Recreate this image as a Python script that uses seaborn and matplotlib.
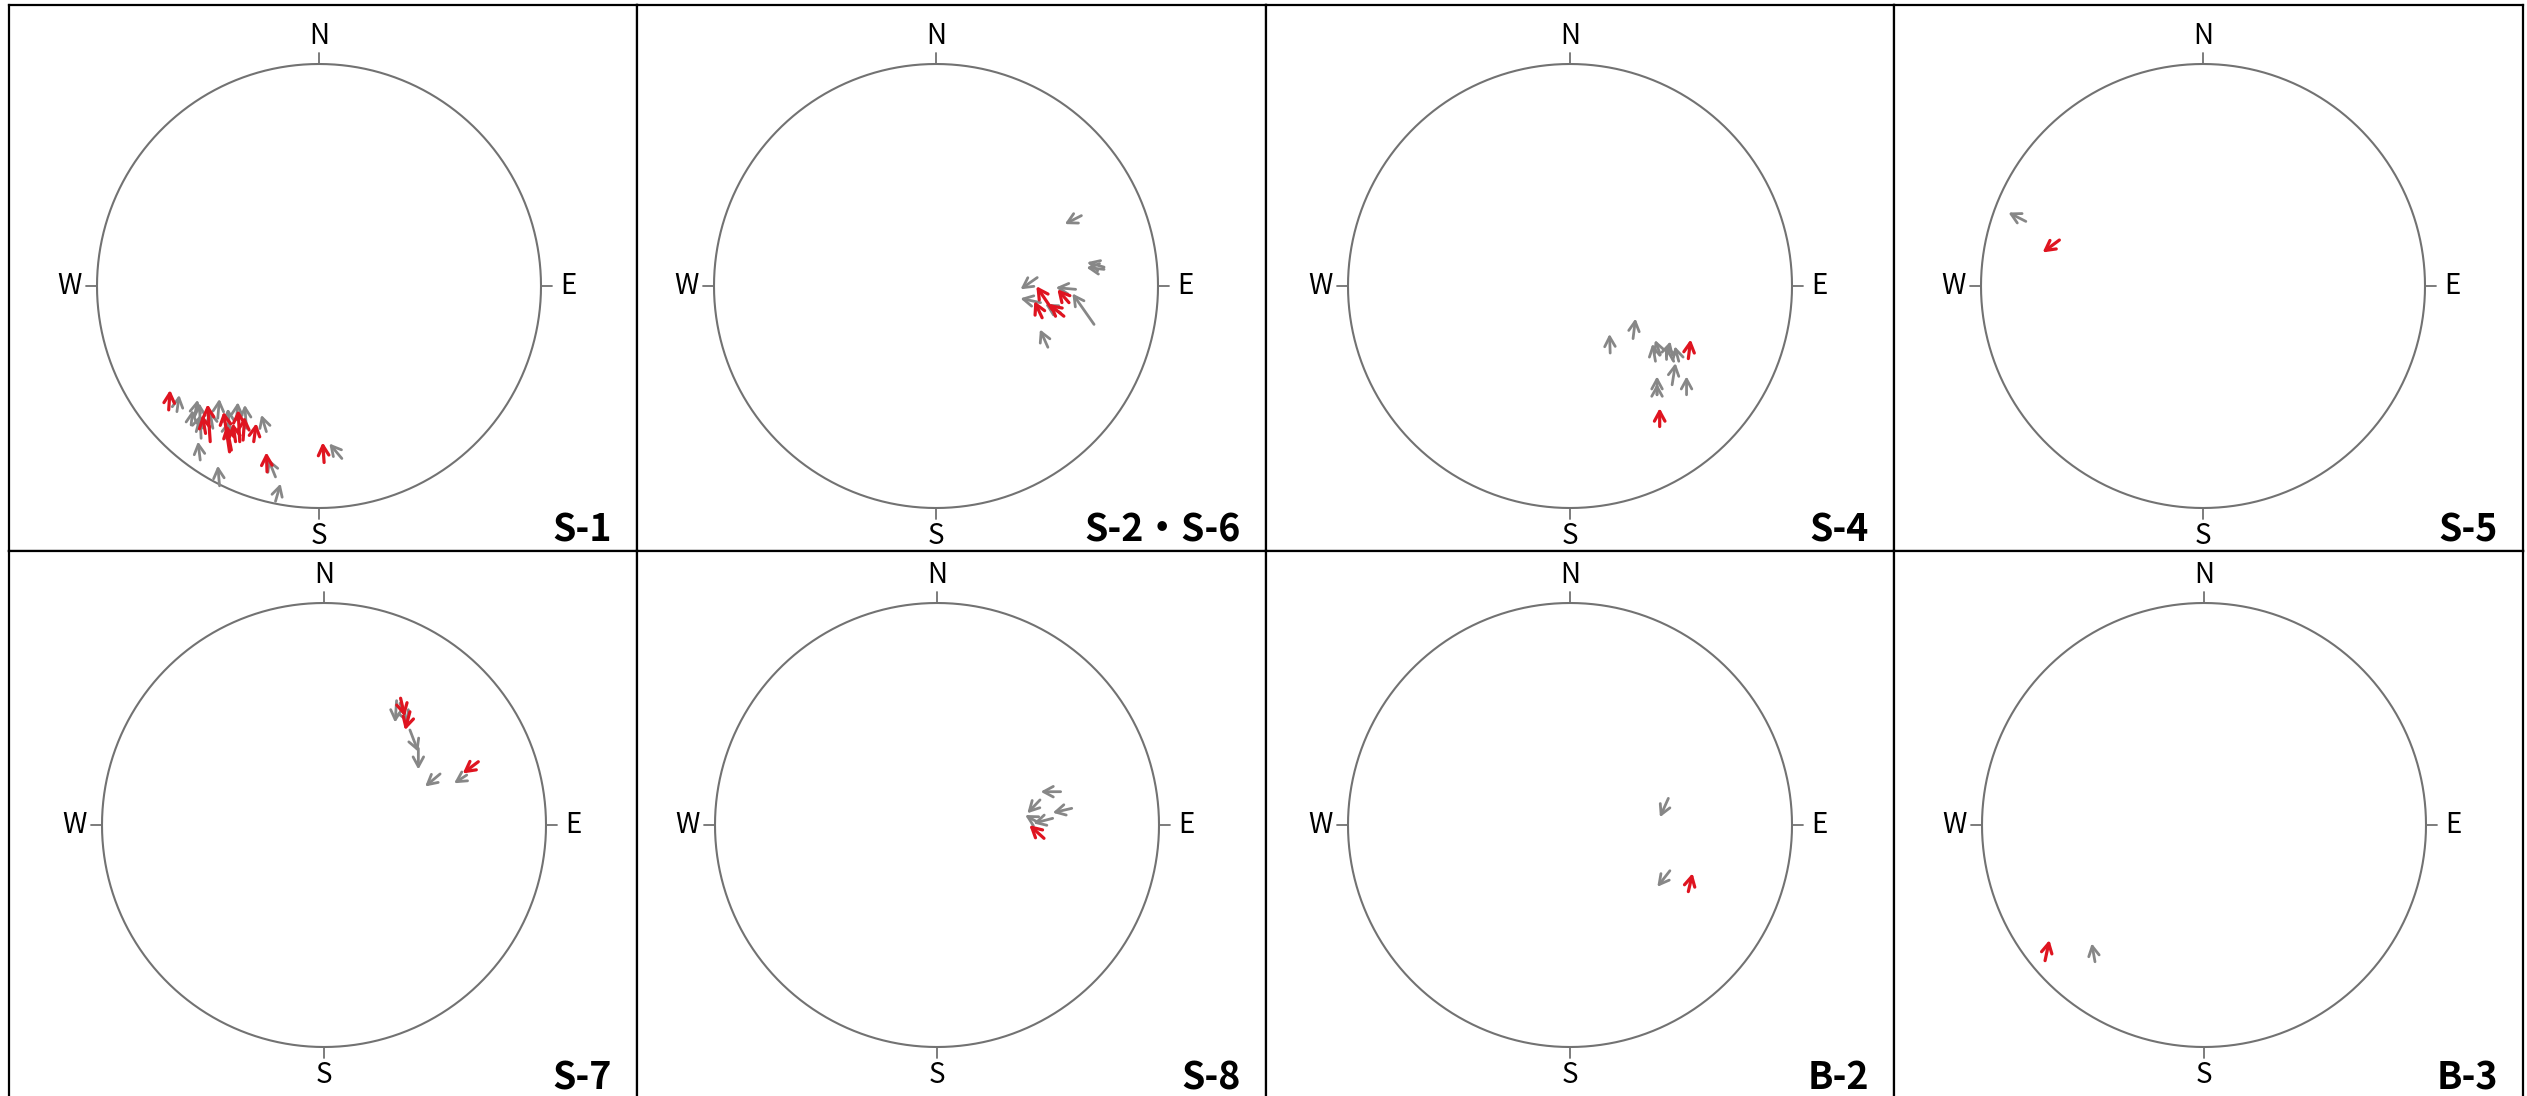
import numpy as np
import matplotlib
matplotlib.use("Agg")
import matplotlib.pyplot as plt
import seaborn as sns

# ---------------------------------------------------------------------------
# Arrow data for each station: tail position on the net (east, north; net
# radius = 1), arrow azimuth (degrees clockwise from north) and arrow length.
# ---------------------------------------------------------------------------
PANEL_NAMES = ["S-1", "S-2・S-6", "S-4", "S-5", "S-7", "S-8", "B-2", "B-3"]

# S-1
S1_GRAY_X = [-0.640, -0.561, -0.531, -0.456, -0.478, -0.327, -0.237, -0.535, -0.448,
             -0.196, 0.103, -0.196, -0.418, -0.576, -0.403, -0.372, -0.553]
S1_GRAY_Y = [-0.566, -0.588, -0.686, -0.596, -0.641, -0.641, -0.656, -0.784, -0.900,
             -0.970, -0.777, -0.860, -0.686, -0.626, -0.641, -0.603, -0.656]
S1_GRAY_AZ = [8, 11, 357, 5, 350, 356, 343, 353, 355, 16, 320, 338, 10, 6, 355, 5, 15]
S1_GRAY_LEN = [0.076, 0.077, 0.159, 0.088, 0.084, 0.106, 0.079, 0.084, 0.091,
               0.083, 0.088, 0.089, 0.084, 0.068, 0.090, 0.080, 0.080]
S1_RED_X = [-0.677, -0.490, -0.511, -0.403, -0.357, -0.376, -0.342, -0.294, -0.234, 0.023, -0.395]
S1_RED_Y = [-0.558, -0.701, -0.664, -0.747, -0.701, -0.701, -0.694, -0.701, -0.837, -0.795, -0.739]
S1_RED_AZ = [4, 356, 350, 351.5, 357, 352, 4, 8, 358, 356, 349]
S1_RED_LEN = [0.090, 0.169, 0.084, 0.183, 0.143, 0.084, 0.106, 0.084, 0.088, 0.091, 0.115]

# S-2・S-6
S2_GRAY_X = [0.655, 0.757, 0.757, 0.456, 0.471, 0.629, 0.712, 0.504, 0.561]
S2_GRAY_Y = [0.317, 0.075, 0.085, 0.038, -0.075, -0.015, -0.173, -0.276, -0.121]
S2_GRAY_AZ = [243, 276, 286, 235, 282, 275, 325, 336, 300]
S2_GRAY_LEN = [0.084, 0.080, 0.080, 0.092, 0.093, 0.090, 0.170, 0.088, 0.080]
S2_RED_X = [0.523, 0.599, 0.478, 0.576]
S2_RED_Y = [-0.106, -0.075, -0.143, -0.136]
S2_RED_AZ = [326, 319, 335, 309]
S2_RED_LEN = [0.127, 0.080, 0.083, 0.088]

# S-4
S4_GRAY_X = [0.181, 0.284, 0.385, 0.407, 0.434, 0.467, 0.490, 0.460, 0.392, 0.392, 0.525]
S4_GRAY_Y = [-0.302, -0.237, -0.339, -0.309, -0.317, -0.339, -0.339, -0.445, -0.490, -0.490, -0.490]
S4_GRAY_AZ = [358, 7, 350, 340, 15, 330, 345, 9, 0, 0, 0]
S4_GRAY_LEN = [0.086, 0.091, 0.080, 0.070, 0.070, 0.080, 0.070, 0.099, 0.083, 0.050, 0.083]
S4_RED_X = [0.533, 0.404]
S4_RED_Y = [-0.327, -0.633]
S4_RED_AZ = [7, 0]
S4_RED_LEN = [0.087, 0.083]

# S-5
S5_GRAY_X = [-0.798]
S5_GRAY_Y = [0.291]
S5_GRAY_AZ = [297]
S5_GRAY_LEN = [0.088]
S5_RED_X = [-0.647]
S5_RED_Y = [0.207]
S5_RED_AZ = [233.5]
S5_RED_LEN = [0.094]

# S-7
S7_GRAY_X = [0.327, 0.342, 0.387, 0.425, 0.523, 0.643]
S7_GRAY_Y = [0.560, 0.548, 0.428, 0.345, 0.230, 0.225]
S7_GRAY_AZ = [184, 157, 159, 180, 230, 237]
S7_GRAY_LEN = [0.099, 0.098, 0.105, 0.095, 0.088, 0.068]
S7_RED_X = [0.345, 0.387, 0.695]
S7_RED_Y = [0.571, 0.510, 0.285]
S7_RED_AZ = [167, 195, 233]
S7_RED_LEN = [0.085, 0.086, 0.088]

# S-8
S8_GRAY_X = [0.557, 0.607, 0.464, 0.521, 0.449]
S8_GRAY_Y = [0.150, 0.075, 0.113, 0.030, 0.015]
S8_GRAY_AZ = [270, 257, 223.5, 255.5, 300]
S8_GRAY_LEN = [0.090, 0.088, 0.083, 0.090, 0.060]
S8_RED_X = [0.482]
S8_RED_Y = [-0.060]
S8_RED_AZ = [312]
S8_RED_LEN = [0.089]

# B-2
B2_GRAY_X = [0.443, 0.450]
B2_GRAY_Y = [0.120, -0.206]
B2_GRAY_AZ = [204, 218]
B2_GRAY_LEN = [0.093, 0.092]
B2_RED_X = [0.533]
B2_RED_Y = [-0.300]
B2_RED_AZ = [13]
B2_RED_LEN = [0.085]

# B-3
B3_GRAY_X = [-0.491]
B3_GRAY_Y = [-0.616]
B3_GRAY_AZ = [350]
B3_GRAY_LEN = [0.084]
B3_RED_X = [-0.716]
B3_RED_Y = [-0.611]
B3_RED_AZ = [12]
B3_RED_LEN = [0.095]

COMPASS_LABELS = ["N", "E", "S", "W"]

PANEL_DATA = [
    (S1_GRAY_X, S1_GRAY_Y, S1_GRAY_AZ, S1_GRAY_LEN, S1_RED_X, S1_RED_Y, S1_RED_AZ, S1_RED_LEN),
    (S2_GRAY_X, S2_GRAY_Y, S2_GRAY_AZ, S2_GRAY_LEN, S2_RED_X, S2_RED_Y, S2_RED_AZ, S2_RED_LEN),
    (S4_GRAY_X, S4_GRAY_Y, S4_GRAY_AZ, S4_GRAY_LEN, S4_RED_X, S4_RED_Y, S4_RED_AZ, S4_RED_LEN),
    (S5_GRAY_X, S5_GRAY_Y, S5_GRAY_AZ, S5_GRAY_LEN, S5_RED_X, S5_RED_Y, S5_RED_AZ, S5_RED_LEN),
    (S7_GRAY_X, S7_GRAY_Y, S7_GRAY_AZ, S7_GRAY_LEN, S7_RED_X, S7_RED_Y, S7_RED_AZ, S7_RED_LEN),
    (S8_GRAY_X, S8_GRAY_Y, S8_GRAY_AZ, S8_GRAY_LEN, S8_RED_X, S8_RED_Y, S8_RED_AZ, S8_RED_LEN),
    (B2_GRAY_X, B2_GRAY_Y, B2_GRAY_AZ, B2_GRAY_LEN, B2_RED_X, B2_RED_Y, B2_RED_AZ, B2_RED_LEN),
    (B3_GRAY_X, B3_GRAY_Y, B3_GRAY_AZ, B3_GRAY_LEN, B3_RED_X, B3_RED_Y, B3_RED_AZ, B3_RED_LEN),
]

# ---------------------------------------------------------------------------
# Layout (pixels)
# ---------------------------------------------------------------------------
FIG_W, FIG_H = 2527, 1096
DPI = 100
COL_EDGES = [9, 637, 1266, 1894, 2523]
ROW_EDGES = [5, 551, 1099]
NET_CENTERS = [(319, 286), (936, 286), (1570, 286), (2203, 286),
               (324, 825), (937, 825), (1570, 825), (2204, 825)]
NET_R = 222

GRAY = "#878787"
RED = "#df1420"
NET_COLOR = "#727272"

sns.set_theme(style="white")
plt.rcParams["font.family"] = ["Noto Sans CJK JP", "DejaVu Sans"]

fig = plt.figure(figsize=(FIG_W / DPI, FIG_H / DPI), dpi=DPI)
fig.patch.set_facecolor("white")

theta = np.linspace(0, 2 * np.pi, 721)
circle_x = np.cos(theta)
circle_y = np.sin(theta)


def draw_arrows(ax, xs, ys, azs, lens, color, lw):
    for x0, y0, az, ln in zip(xs, ys, azs, lens):
        a = np.radians(az)
        x1 = x0 + ln * np.sin(a)
        y1 = y0 + ln * np.cos(a)
        ax.annotate("", xy=(x1, y1), xytext=(x0, y0),
                    arrowprops=dict(arrowstyle="->,head_length=0.7,head_width=0.38",
                                    color=color, lw=lw, shrinkA=0, shrinkB=0,
                                    mutation_scale=10))


for i, name in enumerate(PANEL_NAMES):
    col, row = i % 4, i // 4
    left, right = COL_EDGES[col], COL_EDGES[col + 1]
    top, bottom = ROW_EDGES[row], ROW_EDGES[row + 1]
    cx, cy = NET_CENTERS[i]

    ax = fig.add_axes([left / FIG_W, 1 - bottom / FIG_H,
                       (right - left) / FIG_W, (bottom - top) / FIG_H])
    ax.set_xlim((left - cx) / NET_R, (right - cx) / NET_R)
    ax.set_ylim((cy - bottom) / NET_R, (cy - top) / NET_R)

    # primitive circle of the net
    sns.lineplot(x=circle_x, y=circle_y, sort=False, estimator=None,
                 color=NET_COLOR, linewidth=1.5, ax=ax)

    # compass ticks and labels
    for lab, (dx, dy) in zip(COMPASS_LABELS, [(0, 1), (1, 0), (0, -1), (-1, 0)]):
        ax.plot([dx, dx * 1.048], [dy, dy * 1.048], color=NET_COLOR, lw=1.3)
        ax.text(dx * 1.125, dy * 1.125, lab, ha="center", va="center",
                fontsize=20, color="black")

    gx, gy, gaz, glen, rx, ry, raz, rlen = PANEL_DATA[i]
    draw_arrows(ax, gx, gy, gaz, glen, GRAY, 2.0)
    draw_arrows(ax, rx, ry, raz, rlen, RED, 2.3)

    ax.text(1 - 25 / (right - left), 10 / (bottom - top), name,
            transform=ax.transAxes, ha="right", va="baseline",
            fontsize=27, fontweight="bold", color="black")

    ax.set_xticks([])
    ax.set_yticks([])
    ax.set_xlabel("")
    ax.set_ylabel("")
    for sp in ax.spines.values():
        sp.set_color("black")
        sp.set_linewidth(1.6)
        sp.set_visible(True)

fig.savefig("out.png", dpi=DPI, facecolor="white")
